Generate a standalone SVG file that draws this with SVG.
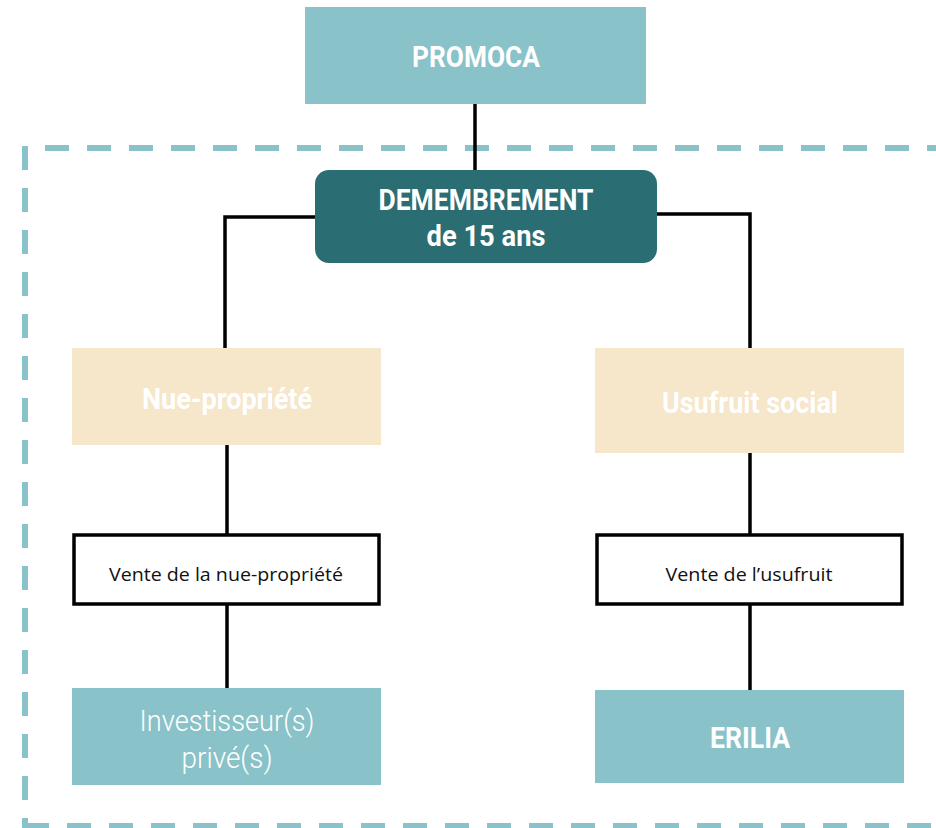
<svg xmlns="http://www.w3.org/2000/svg" width="936" height="828" viewBox="0 0 936 828">
<style>
.teal{fill:#8AC2C9}
.beige{fill:#F6E6CA}
.dark{fill:#2A6D73}
.box{fill:#FFFFFF;stroke:#000;stroke-width:3.5}
.hd{font-family:Roboto,"Liberation Sans",sans-serif;font-weight:700;fill:#FFFFFF;text-anchor:middle}
.lt{font-family:Roboto,"Liberation Sans",sans-serif;font-weight:300;fill:#FFFFFF;text-anchor:middle}
.sm{font-family:"Open Sans","Liberation Sans",sans-serif;fill:#111;text-anchor:middle}
.ln{stroke:#000;stroke-width:3.5;fill:none}
.dash{stroke:#8AC2C9;stroke-width:6;fill:none;stroke-dasharray:24 18}
</style>
<rect width="936" height="828" fill="#FFFFFF"/>
<g id="frame">
<path class="dash" d="M45 148 H936"/>
<path class="dash" d="M25 146 V828"/>
<path class="dash" d="M25 826 H936"/>
</g>
<g id="connectors">
<path class="ln" d="M475 104 V171"/>
<path class="ln" d="M316 217 H225 V350"/>
<path class="ln" d="M656 214 H750 V350"/>
<path class="ln" d="M227 444 V535"/>
<path class="ln" d="M227 604 V690"/>
<path class="ln" d="M750 452 V535"/>
<path class="ln" d="M750 604 V691"/>
</g>
<g id="promoca">
<rect class="teal" x="305" y="7" width="341" height="97"/>
<text class="hd" x="476" y="67" font-size="30" textLength="128" lengthAdjust="spacingAndGlyphs">PROMOCA</text>
</g>
<g id="demembrement">
<rect class="dark" x="315" y="170" width="342" height="93" rx="14"/>
<text class="hd" x="486" y="210" font-size="30" textLength="215" lengthAdjust="spacingAndGlyphs">DEMEMBREMENT</text>
<text class="hd" x="486" y="246" font-size="30" textLength="119" lengthAdjust="spacingAndGlyphs">de 15 ans</text>
</g>
<g id="nue-propriete">
<rect class="beige" x="72" y="348" width="309" height="97"/>
<text class="hd" x="227" y="409" font-size="30" textLength="170" lengthAdjust="spacingAndGlyphs">Nue-propriété</text>
</g>
<g id="usufruit-social">
<rect class="beige" x="595" y="348" width="309" height="105"/>
<text class="hd" x="750" y="413" font-size="30" textLength="176" lengthAdjust="spacingAndGlyphs">Usufruit social</text>
</g>
<g id="vente-nue">
<rect class="box" x="74" y="535" width="305" height="69"/>
<text class="sm" x="226" y="581" font-size="19" textLength="234" lengthAdjust="spacingAndGlyphs">Vente de la nue-propriété</text>
</g>
<g id="vente-usufruit">
<rect class="box" x="597" y="535" width="305" height="69"/>
<text class="sm" x="749" y="581" font-size="19" textLength="167" lengthAdjust="spacingAndGlyphs">Vente de l’usufruit</text>
</g>
<g id="investisseurs">
<rect class="teal" x="72" y="688" width="309" height="97"/>
<text class="lt" x="227" y="731" font-size="29" textLength="175" lengthAdjust="spacingAndGlyphs">Investisseur(s)</text>
<text class="lt" x="227" y="768" font-size="29" textLength="91" lengthAdjust="spacingAndGlyphs">privé(s)</text>
</g>
<g id="erilia">
<rect class="teal" x="595" y="690" width="309" height="93"/>
<text class="hd" x="750" y="748" font-size="29" textLength="80" lengthAdjust="spacingAndGlyphs">ERILIA</text>
</g>
</svg>
